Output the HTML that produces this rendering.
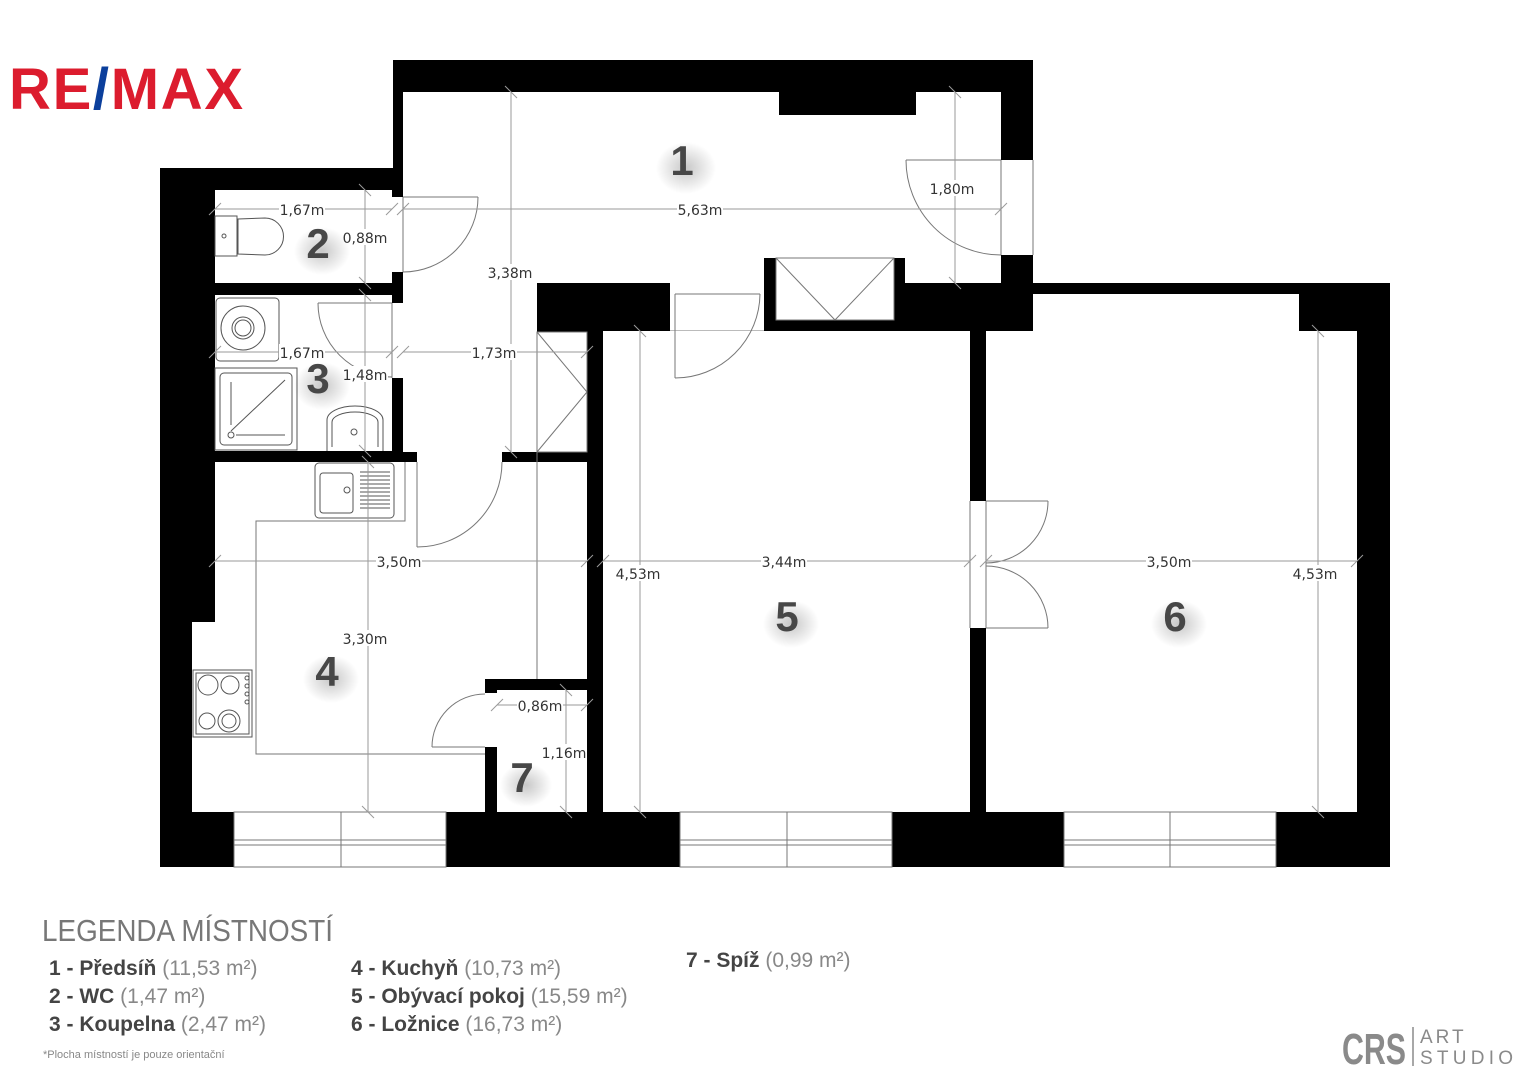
<!DOCTYPE html>
<html><head><meta charset="utf-8"><style>
html,body{margin:0;padding:0;background:#fff;}
svg{display:block;}
.dim{stroke:#9a9a9a;stroke-width:1;fill:none;}
.ln{stroke:#777;stroke-width:1;fill:none;}
.dt{font-family:"DejaVu Sans","Liberation Sans",sans-serif;font-size:14px;fill:#333;}
.num{font-family:"Liberation Sans",sans-serif;font-weight:bold;font-size:42px;fill:#474747;}
.lg{font-family:"Liberation Sans Narrow","Liberation Sans",sans-serif;font-size:21px;fill:#444;}
.lgb{font-weight:bold;fill:#444;}
.lgn{fill:#888;}
</style></head><body>
<svg width="1529" height="1080" viewBox="0 0 1529 1080" xmlns="http://www.w3.org/2000/svg">
<defs>
<radialGradient id="sh"><stop offset="0" stop-color="#000" stop-opacity="0.22"/><stop offset="1" stop-color="#000" stop-opacity="0"/></radialGradient>
</defs>
<polygon points="393,60 1033,60 1033,283 1390,283 1390,867 160,867 160,168 393,168" fill="#000"/>
<rect x="403" y="92" width="598" height="191" fill="#fff"/>
<rect x="779" y="92" width="137" height="23" fill="#000"/>
<rect x="764" y="258" width="12" height="25" fill="#000"/>
<rect x="894" y="258" width="11" height="25" fill="#000"/>
<rect x="776" y="258" width="118" height="62" fill="#fff" stroke="#777"/>
<polyline points="776,258 835,320 894,258" class="ln"/>
<rect x="403" y="283" width="134" height="169" fill="#fff"/>
<rect x="537" y="332" width="50" height="120" fill="#fff" stroke="#777"/>
<polyline points="537,332 587,392 537,452" class="ln"/>
<rect x="670" y="283" width="94" height="48" fill="#fff"/>
<line x1="675" y1="294" x2="760" y2="294" class="ln"/>
<line x1="670" y1="331" x2="764" y2="331" class="ln"/>
<rect x="1001" y="160" width="32" height="95" fill="#fff"/>
<line x1="1001" y1="160" x2="1001" y2="255" class="ln"/>
<line x1="1033" y1="160" x2="1033" y2="255" class="ln"/>
<rect x="215" y="190" width="177" height="93" fill="#fff"/>
<rect x="392" y="197" width="11" height="75" fill="#fff"/>
<rect x="215" y="295" width="177" height="156" fill="#fff"/>
<rect x="392" y="303" width="11" height="75" fill="#fff"/>
<polygon points="215,462 587,462 587,812 192,812 192,622 215,622" fill="#fff"/>
<rect x="417" y="452" width="85" height="10" fill="#fff"/>
<rect x="485" y="679" width="102" height="11" fill="#000"/>
<rect x="485" y="690" width="12" height="122" fill="#000"/>
<rect x="485" y="693" width="12" height="54" fill="#fff"/>
<rect x="603" y="331" width="367" height="481" fill="#fff"/>
<polygon points="986,331 1033,331 1033,294 1299,294 1299,331 1357,331 1357,812 986,812" fill="#fff"/>
<rect x="970" y="501" width="16" height="127" fill="#fff"/>
<line x1="970" y1="501" x2="970" y2="628" class="ln"/>
<line x1="986" y1="501" x2="986" y2="628" class="ln"/>
<g class="ln">
<rect x="234" y="812" width="212" height="55" fill="#fff" stroke="#777"/>
<line x1="341" y1="812" x2="341" y2="867"/><line x1="234" y1="840" x2="446" y2="840"/><line x1="234" y1="845" x2="446" y2="845"/>
<rect x="680" y="812" width="212" height="55" fill="#fff" stroke="#777"/>
<line x1="787" y1="812" x2="787" y2="867"/><line x1="680" y1="840" x2="892" y2="840"/><line x1="680" y1="845" x2="892" y2="845"/>
<rect x="1064" y="812" width="212" height="55" fill="#fff" stroke="#777"/>
<line x1="1170" y1="812" x2="1170" y2="867"/><line x1="1064" y1="840" x2="1276" y2="840"/><line x1="1064" y1="845" x2="1276" y2="845"/>
</g>
<g class="ln">
<line x1="403" y1="197" x2="478" y2="197"/><path d="M478,197 A75,75 0 0 1 403,272"/><line x1="403" y1="197" x2="403" y2="272"/>
<line x1="318" y1="303" x2="392" y2="303"/><path d="M318,303 A74,74 0 0 0 392,377"/><line x1="392" y1="303" x2="392" y2="378"/>
<line x1="417" y1="462" x2="417" y2="547"/><path d="M417,547 A85,85 0 0 0 502,462"/>
<line x1="432" y1="747" x2="485" y2="747"/><path d="M432,747 A53,53 0 0 1 485,694"/>
<line x1="675" y1="294" x2="675" y2="378"/><path d="M675,378 A85,85 0 0 0 760,294"/>
<line x1="906" y1="160" x2="1001" y2="160"/><path d="M906,160 A95,95 0 0 0 1001,255"/>
<line x1="986" y1="501" x2="1048" y2="501"/><path d="M1048,501 A62,62 0 0 1 986,563"/>
<line x1="986" y1="628" x2="1048" y2="628"/><path d="M1048,628 A62,62 0 0 0 986,566"/>
</g>
<polyline points="405,462 405,521 256,521 256,754 485,754" class="ln"/>
<line x1="537" y1="452" x2="537" y2="679" class="ln"/>
<g stroke="#555" fill="none" stroke-width="1">
<rect x="215" y="216" width="22" height="40"/><path d="M238,219 L265,218 A18,18 0 0 1 265,255 L238,254 Z"/><circle cx="224" cy="236" r="2"/>
<rect x="216" y="298" width="63" height="63" rx="4"/><circle cx="243" cy="328" r="22"/><circle cx="243" cy="328" r="11"/><circle cx="243" cy="328" r="8"/>
<rect x="215" y="368" width="82" height="82"/><rect x="220" y="373" width="72" height="72" rx="4"/><line x1="231" y1="431" x2="285" y2="380"/><line x1="231" y1="382" x2="231" y2="425"/><line x1="236" y1="435" x2="285" y2="435"/><circle cx="231" cy="435" r="3"/>
<path d="M327,451 L327,420 A28,14 0 0 1 383,420 L383,451"/><path d="M332,447 L332,422 A23,10 0 0 1 378,422 L378,447"/><circle cx="354" cy="432" r="3"/>
<rect x="315" y="463" width="79" height="55" rx="4"/><rect x="320" y="473" width="33" height="40" rx="3"/><circle cx="347" cy="490" r="3"/>
<path d="M360,472 h30 M360,476 h30 M360,480 h30 M360,484 h30 M360,488 h30 M360,492 h30 M360,496 h30 M360,500 h30 M360,504 h30 M360,508 h30"/>
<rect x="193" y="670" width="59" height="67"/><rect x="196" y="673" width="53" height="61"/>
<circle cx="208" cy="685" r="10"/><circle cx="230" cy="685" r="9"/><circle cx="207" cy="721" r="8"/><circle cx="229" cy="721" r="11"/><circle cx="229" cy="721" r="7"/>
<circle cx="247" cy="678" r="2"/><circle cx="247" cy="686" r="2"/><circle cx="247" cy="694" r="2"/><circle cx="247" cy="702" r="2"/>
</g>
<g class="dim">
<line x1="215" y1="209" x2="392" y2="209"/><line x1="403" y1="209" x2="1001" y2="209"/>
<line x1="365" y1="190" x2="365" y2="283"/>
<line x1="955" y1="92" x2="955" y2="283"/>
<line x1="511" y1="92" x2="511" y2="452"/>
<line x1="215" y1="352" x2="392" y2="352"/><line x1="403" y1="352" x2="587" y2="352"/>
<line x1="365" y1="295" x2="365" y2="451"/>
<line x1="215" y1="561" x2="587" y2="561"/><line x1="603" y1="561" x2="970" y2="561"/><line x1="986" y1="561" x2="1357" y2="561"/>
<line x1="640" y1="331" x2="640" y2="812"/><line x1="1318" y1="331" x2="1318" y2="812"/>
<line x1="368" y1="462" x2="368" y2="812"/>
<line x1="497" y1="705" x2="587" y2="705"/><line x1="566" y1="690" x2="566" y2="812"/>
</g>
<g class="dim">
<path d="M209,215 l12,-12 M386,215 l12,-12 M397,215 l12,-12 M995,215 l12,-12 M209,358 l12,-12 M386,358 l12,-12 M397,358 l12,-12 M581,358 l12,-12 M209,567 l12,-12 M581,567 l12,-12 M597,567 l12,-12 M964,567 l12,-12 M980,567 l12,-12 M1351,567 l12,-12"/>
<path d="M359,184 l12,12 M359,277 l12,12 M359,289 l12,12 M359,445 l12,12 M949,86 l12,12 M949,277 l12,12 M505,86 l12,12 M505,446 l12,12 M634,325 l12,12 M634,806 l12,12 M1312,325 l12,12 M1312,806 l12,12 M362,456 l12,12 M362,806 l12,12 M560,684 l12,12 M560,806 l12,12 M491,711 l12,-12 M581,711 l12,-12"/>
</g>
<g class="dt" text-anchor="middle">
<rect x="279" y="201" width="46" height="16" fill="#fff"/><text x="302" y="215">1,67m</text>
<rect x="677" y="201" width="46" height="16" fill="#fff"/><text x="700" y="215">5,63m</text>
<rect x="341" y="229" width="48" height="16" fill="#fff"/><text x="365" y="243">0,88m</text>
<rect x="929" y="180" width="46" height="16" fill="#fff"/><text x="952" y="194">1,80m</text>
<rect x="487" y="264" width="46" height="16" fill="#fff"/><text x="510" y="278">3,38m</text>
<rect x="279" y="344" width="46" height="16" fill="#fff"/><text x="302" y="358">1,67m</text>
<rect x="471" y="344" width="46" height="16" fill="#fff"/><text x="494" y="358">1,73m</text>
<rect x="342" y="366" width="46" height="16" fill="#fff"/><text x="365" y="380">1,48m</text>
<rect x="376" y="553" width="46" height="16" fill="#fff"/><text x="399" y="567">3,50m</text>
<rect x="761" y="553" width="46" height="16" fill="#fff"/><text x="784" y="567">3,44m</text>
<rect x="1146" y="553" width="46" height="16" fill="#fff"/><text x="1169" y="567">3,50m</text>
<rect x="615" y="565" width="46" height="16" fill="#fff"/><text x="638" y="579">4,53m</text>
<rect x="1292" y="565" width="46" height="16" fill="#fff"/><text x="1315" y="579">4,53m</text>
<rect x="342" y="630" width="46" height="16" fill="#fff"/><text x="365" y="644">3,30m</text>
<rect x="517" y="697" width="46" height="16" fill="#fff"/><text x="540" y="711">0,86m</text>
<rect x="541" y="744" width="46" height="16" fill="#fff"/><text x="564" y="758">1,16m</text>
</g>
<g>
<ellipse cx="686" cy="168" rx="30" ry="26" fill="url(#sh)"/><ellipse cx="322" cy="251" rx="28" ry="24" fill="url(#sh)"/>
<ellipse cx="322" cy="386" rx="28" ry="24" fill="url(#sh)"/><ellipse cx="331" cy="679" rx="28" ry="24" fill="url(#sh)"/>
<ellipse cx="791" cy="624" rx="28" ry="24" fill="url(#sh)"/><ellipse cx="1179" cy="624" rx="28" ry="24" fill="url(#sh)"/>
<ellipse cx="526" cy="785" rx="26" ry="22" fill="url(#sh)"/>
</g>
<g class="num" text-anchor="middle">
<text x="682" y="175">1</text><text x="318" y="258">2</text><text x="318" y="393">3</text><text x="327" y="686">4</text>
<text x="787" y="631">5</text><text x="1175" y="631">6</text><text x="522" y="792">7</text>
</g>
<text x="9" y="109" font-family="Liberation Sans,sans-serif" font-weight="bold" font-size="58" fill="#dc1c2e" textLength="234" lengthAdjust="spacing">RE<tspan fill="#0b3f9c">/</tspan>MAX</text>
<text x="42" y="941" font-family="Liberation Sans Narrow,Liberation Sans,sans-serif" font-size="31" fill="#777" textLength="291" lengthAdjust="spacingAndGlyphs">LEGENDA MÍSTNOSTÍ</text>
<g class="lg">
<text x="49" y="975"><tspan class="lgb">1 - Předsíň</tspan><tspan class="lgn"> (11,53 m²)</tspan></text>
<text x="49" y="1003"><tspan class="lgb">2 - WC</tspan><tspan class="lgn"> (1,47 m²)</tspan></text>
<text x="49" y="1031"><tspan class="lgb">3 - Koupelna</tspan><tspan class="lgn"> (2,47 m²)</tspan></text>
<text x="351" y="975"><tspan class="lgb">4 - Kuchyň</tspan><tspan class="lgn"> (10,73 m²)</tspan></text>
<text x="351" y="1003"><tspan class="lgb">5 - Obývací pokoj</tspan><tspan class="lgn"> (15,59 m²)</tspan></text>
<text x="351" y="1031"><tspan class="lgb">6 - Ložnice</tspan><tspan class="lgn"> (16,73 m²)</tspan></text>
<text x="686" y="967"><tspan class="lgb">7 - Spíž</tspan><tspan class="lgn"> (0,99 m²)</tspan></text>
</g>
<text x="43" y="1058" font-family="Liberation Sans Narrow,Liberation Sans,sans-serif" font-size="11" fill="#888">*Plocha místností je pouze orientační</text>
<text x="1342" y="1064" font-family="Liberation Sans,sans-serif" font-weight="bold" font-size="44" fill="#8a8a8a" textLength="64" lengthAdjust="spacingAndGlyphs">CRS</text>
<line x1="1413" y1="1027" x2="1413" y2="1066" stroke="#8a8a8a" stroke-width="1.5"/>
<text x="1420" y="1043" font-family="Liberation Sans,sans-serif" font-size="19" fill="#8a8a8a" letter-spacing="3">ART</text>
<text x="1420" y="1064" font-family="Liberation Sans,sans-serif" font-size="19" fill="#8a8a8a" textLength="93" lengthAdjust="spacing">STUDIO</text>
</svg>
</body></html>
